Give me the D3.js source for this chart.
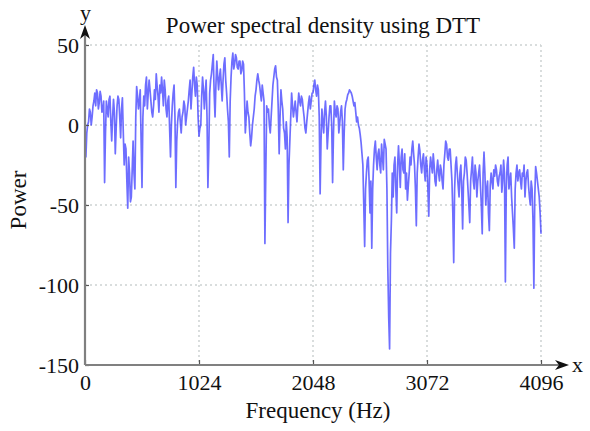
<!DOCTYPE html>
<html lang="en">
<head>
  <meta charset="UTF-8">
  <script src="https://d3js.org/d3.v7.min.js"></script>
  <title>Power spectral density using DTT</title>
  <style>
    body {
      margin: 0;
      background: #fff;
      overflow: hidden;
    }
    svg text {
      font-family: "Liberation Serif", "Times New Roman", Times, Tinos, "DejaVu Serif", "Noto Serif", serif;
      fill: #111;
    }
  </style>
</head>
<body>
<script>
  // Power (dB), one value every 8 Hz from 0 to 4096 Hz
  const powerValues = [
    -12, -20, -5, 0, 2, 10, 8, 0, 5, 12, 15, 20, 12, 22, 20, 10, 14, 21, 18, 8, 10, 15, -36, -5, 15, 10, 5, 16, 18, 2, -10, 5, 16, 8, -18, -2, 12, 18, 16, 5,
    -8, 10, 17, -5, -25, -12, -15, -35, -52, -20, -30, -48, -45, -28, -10, -30, -40, 5, 24, 18, 10, 15, 22, -10, -39, 5, 18, 12, 25, 30, 10, 20, 28, 22, 15, 8, 5, 12, 22, 16,
    32, 24, 18, 8, 25, 20, 30, 22, 12, 28, 22, 10, 5, 15, 18, -2, -20, 0, 12, 20, 25, 5, -39, -10, 2, 8, 10, 2, -5, 5, 8, 15, 12, 0, 5, 10, 15, 22, 28, 10,
    20, 30, 36, 25, 18, 30, 25, 5, -7, -2, 0, 18, 30, 22, 10, 20, 28, 5, -39, -15, 20, 28, 32, 38, 44, 20, 5, 25, 40, 30, 22, 30, 35, 25, 15, 28, 38, 42, 28, 20,
    10, 2, -20, 15, 30, 40, 45, 35, 38, 44, 42, 36, 35, 40, 40, 32, 34, 40, 38, 20, -5, 5, 15, 8, 5, -5, -13, -8, 0, 5, 10, 18, 22, 28, 32, 28, 25, 20, 15, 25,
    20, 15, -74, -30, 12, 8, 10, 0, -5, 5, 15, 25, 30, 35, 37, 30, 28, 10, -18, 5, 22, 15, 10, -2, -5, -15, 2, -8, -61, -25, -10, 5, 20, 12, 5, 10, 15, 8, 2, 12,
    20, 15, 12, 18, 16, 10, 5, -2, -5, 2, 8, 14, 18, 10, 15, 20, 20, 25, 28, 22, 18, 25, 22, 5, -43, -10, 10, 2, -5, 8, 15, 5, -15, -5, 5, 12, 12, 0, -36, -5,
    15, 8, 5, 12, 10, -5, 1, 8, 12, 2, -28, -5, 10, 14, 16, 19, 20, 22, 21, 20, 18, 15, 12, 14, 8, 2, 5, 0, -2, -6, -11, -18, -25, -50, -76, -40, -30, -22, -20, -35,
    -55, -35, -77, -40, -25, -15, -10, -20, -28, -18, -15, -25, -30, -12, -20, -28, -9, -12, -15, -40, -89, -120, -140, -80, -60, -30, -45, -25, -20, -40, -55, -25, -13, -25, -39, -20, -15, -28, -30, -18,
    -40, -30, -47, -38, -30, -20, -25, -15, -10, -18, -25, -40, -63, -30, -20, -12, -16, -25, -30, -22, -18, -28, -35, -20, -25, -40, -57, -28, -20, -25, -30, -18, -25, -35, -38, -28, -22, -30, -35, -25,
    -28, -35, -40, -25, -18, -10, -12, -20, -22, -15, -15, -25, -35, -55, -86, -40, -25, -20, -30, -38, -45, -30, -25, -40, -65, -35, -30, -20, -22, -30, -40, -50, -61, -35, -28, -20, -35, -40, -25, -30,
    -45, -35, -30, -25, -38, -50, -68, -30, -17, -30, -50, -40, -35, -55, -66, -38, -30, -35, -40, -28, -32, -25, -28, -35, -38, -32, -30, -25, -42, -35, -22, -30, -98, -40, -25, -20, -40, -35, -30, -45,
    -55, -65, -77, -40, -30, -25, -35, -30, -28, -35, -40, -30, -32, -25, -45, -35, -30, -28, -38, -45, -50, -35, -40, -60, -102, -45, -26, -30, -35, -40, -45, -55, -68
  ];
  const xTicks = [0, 1024, 2048, 3072, 4096];
  const yTicks = [50, 0, -50, -100, -150];

  const freqStep = 4096 / (powerValues.length - 1);
  const series = powerValues.map((v, i) => ({ f: i * freqStep, p: v }));

  const width = 590;
  const height = 431;
  const margin = { top: 45, right: 49, bottom: 66, left: 85 };

  const svg = d3.select("body").append("svg")
    .attr("width", width)
    .attr("height", height);

  svg.append("rect")
    .attr("width", width)
    .attr("height", height)
    .attr("fill", "#fff");

  const x = d3.scaleLinear()
    .domain([0, 4096])
    .range([margin.left, width - margin.right]);

  const y = d3.scaleLinear()
    .domain([-150, 50])
    .range([height - margin.bottom, margin.top]);

  // Dotted grid
  const grid = svg.append("g").attr("class", "grid");
  grid.selectAll("line.gx")
    .data(xTicks.slice(1))
    .enter().append("line")
    .attr("class", "gx")
    .attr("x1", d => x(d)).attr("x2", d => x(d))
    .attr("y1", y(50)).attr("y2", y(-150))
    .attr("stroke", "#cdd2d2")
    .attr("stroke-width", 1.5)
    .attr("stroke-dasharray", "2,3");

  grid.selectAll("line.gy")
    .data(yTicks.slice(0, -1))
    .enter().append("line")
    .attr("class", "gy")
    .attr("x1", x(0)).attr("x2", x(4096))
    .attr("y1", d => y(d)).attr("y2", d => y(d))
    .attr("stroke", "#cdd2d2")
    .attr("stroke-width", 1.5)
    .attr("stroke-dasharray", "2,3");

  // Power curve
  const line = d3.line()
    .x(d => x(d.f))
    .y(d => y(d.p));

  svg.append("path")
    .datum(series)
    .attr("fill", "none")
    .attr("stroke", "#2a2aff")
    .attr("stroke-opacity", 0.68)
    .attr("stroke-width", 1.7)
    .attr("stroke-linejoin", "round")
    .attr("d", line);

  // Axes
  const fmt = d => String(d);
  const xAxis = svg.append("g")
    .attr("transform", `translate(0,${y(-150)})`)
    .call(d3.axisBottom(x).tickValues(xTicks).tickSize(-5).tickPadding(9).tickFormat(fmt));

  const yAxis = svg.append("g")
    .attr("transform", `translate(${x(0)},0)`)
    .call(d3.axisLeft(y).tickValues(yTicks).tickSize(-4).tickPadding(6).tickFormat(fmt));

  [xAxis, yAxis].forEach(a => {
    a.attr("font-family", null);
    a.select(".domain").remove();
    a.selectAll(".tick line").attr("stroke", "#555").attr("stroke-width", 1.2);
    a.selectAll(".tick text")
      .style("font-size", "22px")
      .attr("fill", "#111");
  });
  yAxis.selectAll(".tick text").attr("dy", "0.35em");

  // Axis lines with arrows
  svg.append("line")
    .attr("x1", x(0)).attr("x2", 560)
    .attr("y1", y(-150)).attr("y2", y(-150))
    .attr("stroke", "#808080").attr("stroke-width", 2.2);
  svg.append("line")
    .attr("x1", x(0)).attr("x2", x(0))
    .attr("y1", y(-150)).attr("y2", 34)
    .attr("stroke", "#808080").attr("stroke-width", 2.2);

  svg.append("path")
    .attr("d", `M569,${y(-150)} L555,${y(-150) - 5} L559,${y(-150)} L555,${y(-150) + 5} Z`)
    .attr("fill", "#111");
  svg.append("path")
    .attr("d", `M${x(0)},25 L${x(0) - 5},39 L${x(0)},35 L${x(0) + 5},39 Z`)
    .attr("fill", "#111");

  svg.append("text").attr("x", 572).attr("y", 372).style("font-size", "22px").text("x");
  svg.append("text").attr("x", 80).attr("y", 20).style("font-size", "22px").text("y");

  // Titles
  svg.append("text")
    .attr("x", 323).attr("y", 33)
    .attr("text-anchor", "middle")
    .style("font-size", "23px")
    .text("Power spectral density using DTT");

  svg.append("text")
    .attr("x", 318).attr("y", 418)
    .attr("text-anchor", "middle")
    .style("font-size", "23px")
    .text("Frequency (Hz)");

  svg.append("text")
    .attr("transform", "translate(26,200) rotate(-90)")
    .attr("text-anchor", "middle")
    .style("font-size", "23px")
    .text("Power");
</script>
</body>
</html>
